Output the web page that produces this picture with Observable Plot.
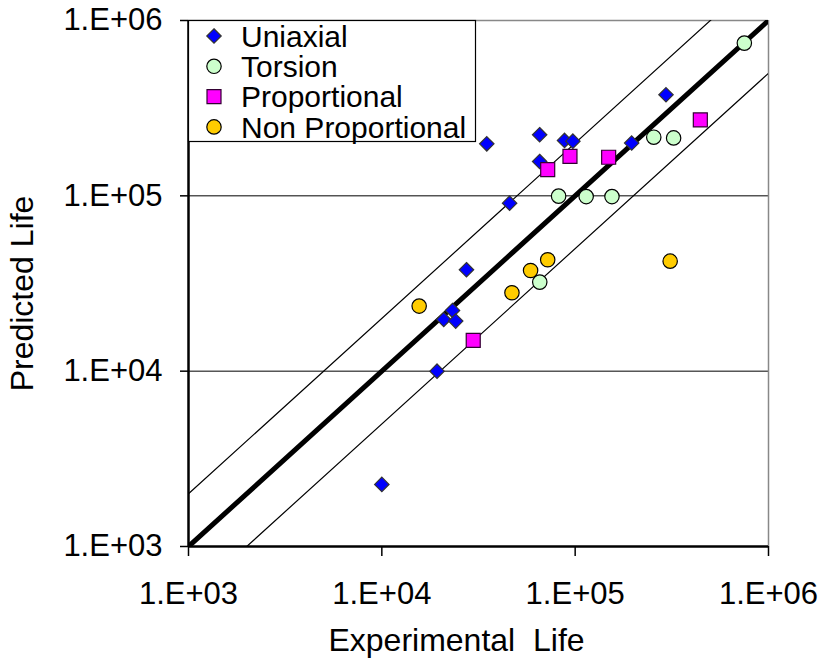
<!DOCTYPE html>
<html>
<head>
<meta charset="utf-8">
<script src="https://cdn.jsdelivr.net/npm/d3@7"></script>
<script src="https://cdn.jsdelivr.net/npm/@observablehq/plot@0.6"></script>
<style>
  html, body { margin: 0; padding: 0; background: #fff; }
  #chart svg { display: block; }
</style>
</head>
<body>
<div id="chart"></div>
<script>
// ---- Data ----
const seriesNames = ["Uniaxial", "Torsion", "Proportional", "Non Proportional"];

const uniaxialExp  = [10000, 19300, 20900, 23200, 24100, 27400, 45800, 34900, 65500, 65500, 88100, 97300, 196000, 295000];
const uniaxialPred = [2260, 10000, 19700, 22200, 19300, 37900, 90800, 198000, 223000, 157000, 207000, 205000, 200000, 377000];

const torsionExp  = [750000, 255000, 323000, 82100, 114000, 155000, 65600];
const torsionPred = [743000, 216000, 214000, 99600, 99000, 99000, 32200];

const propExp  = [29700, 72100, 94000, 149000, 444000];
const propPred = [15000, 141000, 168000, 166000, 271000];

const nonPropExp  = [15600, 47100, 58800, 72100, 310000];
const nonPropPred = [23500, 28000, 37500, 43200, 42400];

const tickValues = [1e3, 1e4, 1e5, 1e6];
const tickLabels = ["1.E+03", "1.E+04", "1.E+05", "1.E+06"];
const gridValues = [1e4, 1e5];
const bandFactors = [0.5, 2];   // scatter bands around the 1:1 line
const lifeRange = [1e3, 1e6];
const xTitle = "Experimental  Life";
const yTitle = "Predicted Life";

// ---- Build tables ----
const toRows = (xs, ys) => xs.map((x, i) => ({x, y: ys[i]}));
const uni = toRows(uniaxialExp, uniaxialPred);
const tor = toRows(torsionExp, torsionPred);
const pro = toRows(propExp, propPred);
const non = toRows(nonPropExp, nonPropPred);

const oneToOne = lifeRange.map(v => ({x: v, y: v}));
const bands = bandFactors.flatMap(f => lifeRange.map(v => ({f, x: v, y: v * f})));

const fmt = d => tickLabels[tickValues.indexOf(d)];

const font = "'Liberation Sans', Arial, Helvetica, sans-serif";

const style = {
  uni: {symbol: "diamond2", r: 6.5, fill: "#0000ff", stroke: "#333333"},
  tor: {symbol: "circle", r: 7.2, fill: "#ccffcc", stroke: "#000000"},
  pro: {symbol: "square", r: 7.9, fill: "#ff00ff", stroke: "#330033"},
  non: {symbol: "circle", r: 7.2, fill: "#ffcc00", stroke: "#000000"}
};

const chart = Plot.plot({
  width: 823,
  height: 665,
  marginLeft: 188,
  marginRight: 55,
  marginTop: 20,
  marginBottom: 119,
  style: {fontFamily: font, fontSize: "31px", background: "#ffffff", color: "#000"},
  x: {type: "log", domain: lifeRange},
  y: {type: "log", domain: lifeRange},
  marks: [
    Plot.ruleY(gridValues, {stroke: "#000", strokeWidth: 1}),
    Plot.ruleY([lifeRange[1]], {stroke: "#888", strokeWidth: 1.5}),
    Plot.ruleX([lifeRange[1]], {stroke: "#888", strokeWidth: 1.5}),
    Plot.line(bands, {x: "x", y: "y", z: "f", stroke: "#000", strokeWidth: 1.2, clip: true}),
    Plot.line(oneToOne, {x: "x", y: "y", stroke: "#000", strokeWidth: 5, clip: true}),
    Plot.axisX({ticks: tickValues, tickFormat: fmt, tickSize: 10, tickPadding: 25, fontSize: 31, label: null, strokeWidth: 1.5}),
    Plot.axisY({ticks: tickValues, tickFormat: fmt, tickSize: 8, tickPadding: 18, fontSize: 31, label: null, strokeWidth: 1.5}),
    Plot.ruleY([lifeRange[0]], {stroke: "#000", strokeWidth: 2.5}),
    Plot.ruleX([lifeRange[0]], {stroke: "#000", strokeWidth: 2.5}),
    Plot.dot(uni, {x: "x", y: "y", ...style.uni, strokeWidth: 1.2}),
    Plot.dot(non, {x: "x", y: "y", ...style.non, strokeWidth: 1.2}),
    Plot.dot(tor, {x: "x", y: "y", ...style.tor, strokeWidth: 1.2}),
    Plot.dot(pro, {x: "x", y: "y", ...style.pro, strokeWidth: 1.2}),
    Plot.text([xTitle], {frameAnchor: "bottom", textAnchor: "middle", lineAnchor: "middle", dx: -22, dy: 94, fontSize: 32, fill: "#000"}),
    Plot.text([yTitle], {frameAnchor: "left", textAnchor: "middle", lineAnchor: "middle", rotate: -90, dx: -166, dy: 10, fontSize: 32, fill: "#000"})
  ]
});

document.getElementById("chart").appendChild(chart);

// ---- Legend (inside the plot area, top-left) ----
const svg = d3.select(chart);
const lg = svg.append("g").attr("transform", "translate(188,20)");
lg.append("rect").attr("x", 0.5).attr("y", 0.5).attr("width", 287).attr("height", 121)
  .attr("fill", "#fff").attr("stroke", "#000").attr("stroke-width", 1.2);
const legendStyles = [style.uni, style.tor, style.pro, style.non];
const symMap = {diamond2: d3.symbolDiamond2, circle: d3.symbolCircle, square: d3.symbolSquare};
seriesNames.forEach((name, i) => {
  const cy = 16 + i * 30.3;
  const s = legendStyles[i];
  lg.append("path")
    .attr("d", d3.symbol(symMap[s.symbol], Math.PI * s.r * s.r)())
    .attr("transform", `translate(26,${cy})`)
    .attr("fill", s.fill).attr("stroke", s.stroke).attr("stroke-width", 1.2);
  lg.append("text").attr("x", 53).attr("y", cy).attr("dy", "0.36em")
    .attr("text-anchor", "start")
    .attr("font-family", font).attr("font-size", 30).attr("fill", "#000")
    .text(name);
});
</script>
</body>
</html>
